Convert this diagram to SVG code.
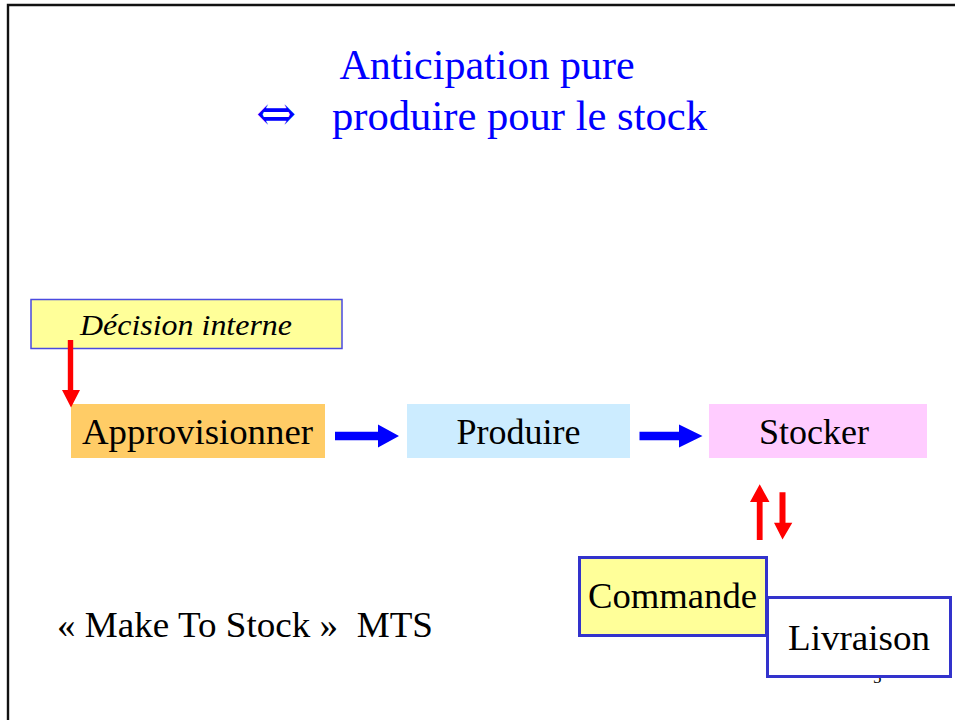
<svg xmlns="http://www.w3.org/2000/svg" width="955" height="720" viewBox="0 0 955 720">
<style>
.t{font-family:"Liberation Serif","Times New Roman",serif;fill:#000;}
.title{font-family:"Liberation Serif","Times New Roman",serif;fill:#0000FF;font-size:42px;}
.lbl{font-size:36px;}
.box{stroke:none;}
.obox{stroke:#3333CC;stroke-width:3;}
.blue{fill:#0000FF;}
.red{fill:#FF0000;}
</style>
<rect width="955" height="720" fill="#FFFFFF"/>
<path d="M8 720 V5 H955" fill="none" stroke="#111111" stroke-width="2.4"/>

<g id="title">
<text class="title" x="487" y="79" text-anchor="middle">Anticipation pure</text>
<text x="256" y="130" style="font-family:'DejaVu Serif',serif;font-size:48px;fill:#0000FF">⇔</text>
<text class="title" x="332" y="130" textLength="375" lengthAdjust="spacingAndGlyphs">produire pour le stock</text>
</g>

<g id="decision">
<rect x="31" y="299.5" width="311" height="49" fill="#FFFF99" stroke="#4A4AE0" stroke-width="1.5"/>
<text class="t" x="80" y="335" font-size="30" font-style="italic" textLength="212" lengthAdjust="spacingAndGlyphs">Décision interne</text>
</g>

<g id="approvisionner">
<rect class="box" x="71" y="404" width="254" height="54" fill="#FFCC66"/>
<text class="t lbl" x="82" y="444" textLength="231" lengthAdjust="spacingAndGlyphs">Approvisionner</text>
</g>

<g id="produire">
<rect class="box" x="407" y="404" width="223" height="54" fill="#CCECFF"/>
<text class="t lbl" x="518.5" y="444" text-anchor="middle">Produire</text>
</g>

<g id="stocker">
<rect class="box" x="709" y="404" width="218" height="54" fill="#FFCCFF"/>
<text class="t lbl" x="814" y="444" text-anchor="middle">Stocker</text>
</g>

<g id="slide-number">
<text class="t" x="873" y="683" font-size="17">5</text>
</g>

<g id="commande">
<rect class="obox" x="579.5" y="557.5" width="187" height="78" fill="#FFFF99"/>
<text class="t lbl" x="588" y="608" textLength="169" lengthAdjust="spacingAndGlyphs">Commande</text>
</g>

<g id="livraison">
<rect class="obox" x="767.5" y="597.5" width="183" height="79" fill="#FFFFFF"/>
<text class="t lbl" x="788" y="650" textLength="142" lengthAdjust="spacingAndGlyphs">Livraison</text>
</g>

<g id="mts">
<text class="t lbl" x="57" y="637" xml:space="preserve" textLength="376" lengthAdjust="spacingAndGlyphs">«&#160;Make To Stock&#160;»  MTS</text>
</g>

<g id="connectors">
<polygon class="red" points="67.8,340 73.2,340 73.2,390 80,390 71,407.5 62,390 67.8,390"/>
<polygon class="blue" points="335,431.7 378,431.7 378,424.5 399,436 378,447.5 378,440.3 335,440.3"/>
<polygon class="blue" points="639.5,431.7 679,431.7 679,424.5 702.5,436 679,447.5 679,440.3 639.5,440.3"/>
<polygon class="red" points="756.8,540 762.6,540 762.6,502 769.5,502 759.7,484.3 750,502 756.8,502"/>
<polygon class="red" points="779.5,492.3 785.5,492.3 785.5,522.7 792.3,522.7 782.5,539.5 774,522.7 779.5,522.7"/>
</g>
</svg>
